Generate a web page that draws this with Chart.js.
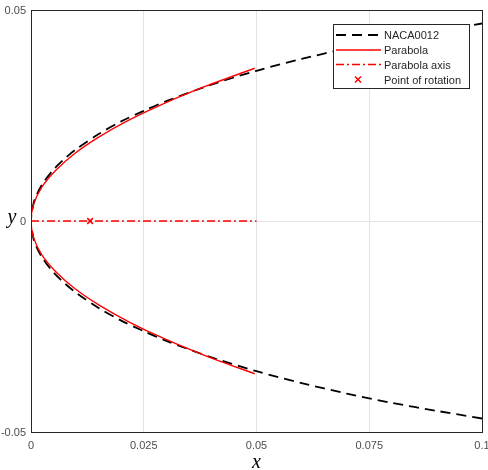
<!DOCTYPE html>
<html>
<head>
<meta charset="utf-8">
<script src="https://cdn.jsdelivr.net/npm/chart.js@4.4.1/dist/chart.umd.min.js"></script>
<style>
  html, body { margin: 0; padding: 0; background: #fff; overflow: hidden; }
  #wrap { width: 488px; height: 470px; }
</style>
</head>
<body>
<div id="wrap"><canvas id="chart" width="488" height="470"></canvas></div>
<script>
"use strict";

// ── Data ────────────────────────────────────────────────────────────────────
// NACA0012 contour, trailing side lower → leading edge → upper
const nacaX = [0.1, 0.09, 0.08, 0.07, 0.06, 0.05, 0.04, 0.03, 0.025, 0.02, 0.015, 0.01, 0.0075, 0.005, 0.0025, 0.001, 0.0005, 0,
               0.0005, 0.001, 0.0025, 0.005, 0.0075, 0.01, 0.015, 0.02, 0.025, 0.03, 0.04, 0.05, 0.06, 0.07, 0.08, 0.09, 0.1];
const nacaY = [-0.0468, -0.0450, -0.0431, -0.0409, -0.0384, -0.0356, -0.0323, -0.0284, -0.0261, -0.0236, -0.0206, -0.0170, -0.0148, -0.0122, -0.0087, -0.0056, -0.0039, 0,
               0.0039, 0.0056, 0.0087, 0.0122, 0.0148, 0.0170, 0.0206, 0.0236, 0.0261, 0.0284, 0.0323, 0.0356, 0.0384, 0.0409, 0.0431, 0.0450, 0.0468];

// Fitted parabola
const parabolaX = [0.0496, 0.0389, 0.0298, 0.0219, 0.0152, 0.0097, 0.0055, 0.0024, 0.0006, 0,
                   0.0006, 0.0024, 0.0055, 0.0097, 0.0152, 0.0219, 0.0298, 0.0389, 0.0496];
const parabolaY = [-0.0362, -0.032, -0.028, -0.024, -0.02, -0.016, -0.012, -0.008, -0.004, 0,
                   0.004, 0.008, 0.012, 0.016, 0.02, 0.024, 0.028, 0.032, 0.0362];

// Parabola axis and rotation point
const axisX = [0, 0.05];
const axisY = [0, 0];
const rotationX = [0.0131];
const rotationY = [0];

// Ticks
const xTicks = [0, 0.025, 0.05, 0.075, 0.1];
const xTickLabels = ["0", "0.025", "0.05", "0.075", "0.1"];
const yTicks = [-0.05, 0, 0.05];
const yTickLabels = ["-0.05", "0", "0.05"];

const seriesLabels = ["NACA0012", "Parabola", "Parabola axis", "Point of rotation"];

// ── Helpers ─────────────────────────────────────────────────────────────────
function pts(xs, ys) { return xs.map((x, i) => ({ x, y: ys[i] })); }

const RED = "#ff0000";
const INK = "#262626";

// ── Overlay: frame, tick labels, axis titles, legend ────────────────────────
const overlay = {
  id: "overlay",
  afterDraw(chart) {
    const { ctx, chartArea: a, scales } = chart;
    ctx.save();

    // frame
    ctx.strokeStyle = INK;
    ctx.lineWidth = 1;
    ctx.strokeRect(Math.round(a.left) + 0.5, Math.round(a.top) + 0.5,
                   Math.round(a.right - a.left), Math.round(a.bottom - a.top));

    // tick labels
    ctx.fillStyle = "#4d4d4d";
    ctx.font = "11px 'Liberation Sans', Arial, sans-serif";
    ctx.textAlign = "center";
    ctx.textBaseline = "middle";
    xTicks.forEach((v, i) => {
      ctx.fillText(xTickLabels[i], scales.x.getPixelForValue(v), a.bottom + 14);
    });
    ctx.textAlign = "right";
    yTicks.forEach((v, i) => {
      ctx.fillText(yTickLabels[i], a.left - 5, scales.y.getPixelForValue(v) + 1);
    });

    // axis titles
    ctx.fillStyle = "#000";
    ctx.font = "italic 20px 'Liberation Serif', 'Times New Roman', serif";
    ctx.textAlign = "center";
    ctx.fillText("x", scales.x.getPixelForValue(0.05), a.bottom + 31);
    ctx.fillText("y", 12, scales.y.getPixelForValue(0) - 3);

    // legend
    const lx = 333, ly = 24, lw = 136, lh = 64;
    ctx.fillStyle = "#fff";
    ctx.fillRect(lx, ly, lw, lh);
    ctx.strokeStyle = INK;
    ctx.strokeRect(lx + 0.5, ly + 0.5, lw, lh);
    const rows = [35, 50, 64.5, 79.5];
    const ds = chart.data.datasets;
    ctx.font = "11px 'Liberation Sans', Arial, sans-serif";
    ctx.textAlign = "left";
    rows.forEach((ry, i) => {
      const d = ds[i];
      if (i < 3) {
        ctx.beginPath();
        ctx.setLineDash(d.borderDash || []);
        ctx.strokeStyle = d.borderColor;
        ctx.lineWidth = d.borderWidth;
        ctx.moveTo(lx + 3, ry);
        ctx.lineTo(lx + 48, ry);
        ctx.stroke();
        ctx.setLineDash([]);
      } else {
        ctx.beginPath();
        ctx.strokeStyle = RED;
        ctx.lineWidth = 1.5;
        const cx = lx + 25, r = 3;
        ctx.moveTo(cx - r, ry - r); ctx.lineTo(cx + r, ry + r);
        ctx.moveTo(cx + r, ry - r); ctx.lineTo(cx - r, ry + r);
        ctx.stroke();
      }
      ctx.fillStyle = INK;
      ctx.textBaseline = "middle";
      ctx.fillText(seriesLabels[i], lx + 51, ry + 1);
    });

    ctx.restore();
  },
};

// ── Chart ───────────────────────────────────────────────────────────────────
new Chart(document.getElementById("chart"), {
  type: "scatter",
  data: {
    datasets: [
      {
        label: seriesLabels[0],
        data: pts(nacaX, nacaY),
        showLine: true,
        borderColor: "#000",
        borderWidth: 1.8,
        borderDash: [10, 6],
        pointRadius: 0,
        tension: 0.3,
        order: 3,
      },
      {
        label: seriesLabels[1],
        data: pts(parabolaX, parabolaY),
        showLine: true,
        borderColor: RED,
        borderWidth: 1.4,
        pointRadius: 0,
        tension: 0.3,
        order: 2,
      },
      {
        label: seriesLabels[2],
        data: pts(axisX, axisY),
        showLine: true,
        borderColor: RED,
        borderWidth: 1.4,
        borderDash: [8, 3, 2, 3],
        pointRadius: 0,
        order: 1,
      },
      {
        label: seriesLabels[3],
        data: pts(rotationX, rotationY),
        showLine: false,
        pointStyle: "crossRot",
        pointRadius: 4,
        borderColor: RED,
        backgroundColor: RED,
        pointBorderWidth: 1.6,
        order: 0,
      },
    ],
  },
  options: {
    responsive: false,
    animation: false,
    layout: { padding: { left: 31, right: 6, top: 10, bottom: 38 } },
    plugins: { legend: { display: false }, tooltip: { enabled: false } },
    scales: {
      x: {
        type: "linear",
        min: 0,
        max: 0.1,
        ticks: { display: false, stepSize: 0.025 },
        grid: { color: "#e3e3e3", lineWidth: 1, drawTicks: false },
        border: { display: false },
      },
      y: {
        type: "linear",
        min: -0.05,
        max: 0.05,
        ticks: { display: false, stepSize: 0.05 },
        grid: { color: "#e3e3e3", lineWidth: 1, drawTicks: false },
        border: { display: false },
      },
    },
  },
  plugins: [overlay],
});
</script>
</body>
</html>
